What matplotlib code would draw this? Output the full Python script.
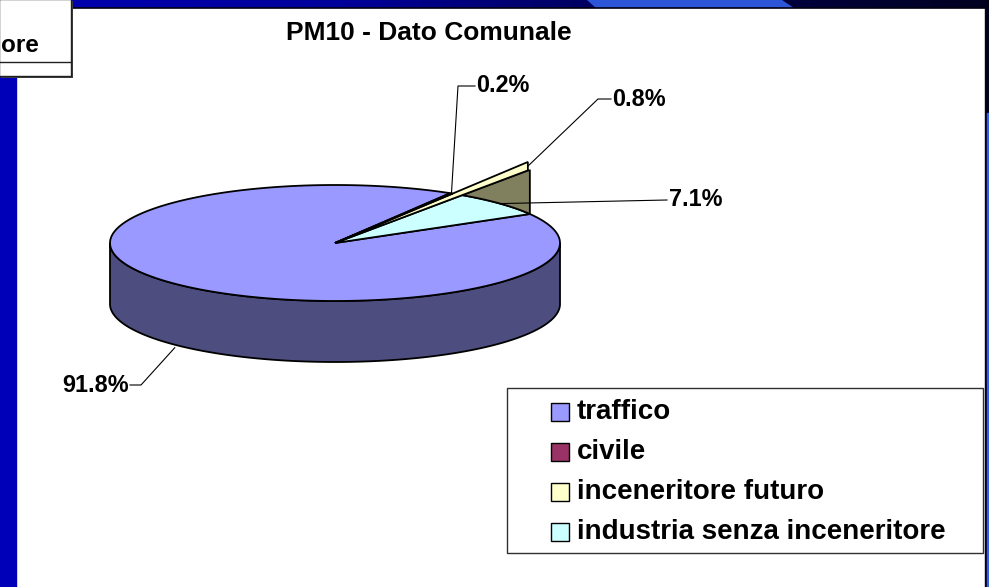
import numpy as np
import matplotlib
matplotlib.use("Agg")
import matplotlib.pyplot as plt
from matplotlib.patches import Polygon, Rectangle
from matplotlib.colors import LinearSegmentedColormap

# ---- data ----
categories = ["traffico", "civile", "inceneritore futuro", "industria senza inceneritore"]
values = [91.8, 0.2, 0.8, 7.1]
colors = ["#9999ff", "#993366", "#ffffcc", "#ccffff"]
title = "PM10 - Dato Comunale"
corner_text = "ore"

FONT = "Liberation Sans"
W, H = 989, 587
fig = plt.figure(figsize=(W / 100, H / 100), dpi=100)
ax = fig.add_axes([0, 0, 1, 1])

# ---- slide background ----
ax.add_patch(Rectangle((0, 0), W, H, color="white", zorder=0))
ax.add_patch(Rectangle((0, 0), 16, H, color="#0000b8", zorder=1))
grad = np.linspace(0, 1, 256).reshape(1, -1)
cmap = LinearSegmentedColormap.from_list("bar", ["#0000b0", "#00009a", "#000050", "#000020"])
ax.imshow(grad, extent=(16, W, 8, 0), cmap=cmap, aspect="auto", zorder=1)
ax.add_patch(Polygon([(587, 0), (782, 0), (794, 8), (596, 8)], closed=True,
                     facecolor="#2d55d8", edgecolor="none", zorder=2))
ax.plot([16, 985], [8, 8], color="#000010", lw=1.2, zorder=2)
ax.add_patch(Rectangle((985, 0), 4, H, color="#000018", zorder=2))
ax.add_patch(Rectangle((987, 113), 2, H - 113, color="#3060f0", zorder=3))

# corner box
ax.add_patch(Rectangle((1, 1), 72, 77, facecolor="#404040", edgecolor="none", zorder=4))
ax.add_patch(Rectangle((-1, -1), 72, 77, facecolor="white", edgecolor="#202020", lw=1.0, zorder=5))
ax.plot([-1, 71], [62, 62], color="#202020", lw=1.0, zorder=6)
ax.text(0.5, 52, corner_text, ha="left", va="baseline", fontsize=17.5, fontweight="bold",
        family=FONT, zorder=6)

# ---- 3D pie ----
cx, cy, a, b, depth = 335.0, 243.0, 225.0, 58.0, 61.0
fr = np.array(values) / sum(values)
start = 30.0
bounds = start + 360 - 360 * np.concatenate([[0], np.cumsum(fr)])


def rim(t, dz=0.0):
    t = np.radians(t)
    return np.array([cx + a * np.cos(t), cy - b * np.sin(t) + dz])


def arc(t0, t1, n=200, dz=0.0):
    return [rim(t, dz) for t in np.linspace(t0, t1, n)]


EC = "black"
LW = 1.3
# side of pie (front half, belongs to traffico)
side = arc(180, 360) + arc(360, 180, dz=depth)
ax.add_patch(Polygon(side, closed=True, facecolor="#4d4d80", edgecolor=EC, lw=LW, zorder=10))

# top faces
for i in [0, 3]:
    pts = [np.array([cx, cy])] + arc(bounds[i], bounds[i + 1])
    ax.add_patch(Polygon(pts, closed=True, facecolor=colors[i], edgecolor=EC, lw=LW, zorder=11))

# extended wedge for the small slice (renderer artefact in the original)
c = np.array([cx, cy])
p_hi = rim(bounds[2])
p_lo = rim(bounds[3])
q = rim(bounds[4])


def extend(p):
    d = p - c
    s = (q[0] - 2 - c[0]) / d[0]
    return c + s * d


T_lo = extend(p_lo)
T_hi = extend(p_hi)
olive = [p_lo, T_lo, np.array([q[0], T_lo[1]]), q] + arc(bounds[4], bounds[3])
ax.add_patch(Polygon(olive, closed=True, facecolor="#80805f", edgecolor=EC, lw=LW, zorder=12))
ax.add_patch(Polygon([c, T_hi, T_lo], closed=True, facecolor=colors[2], edgecolor=EC,
                     lw=LW, zorder=13))
civ = [c] + arc(bounds[1], bounds[2], n=10)
ax.add_patch(Polygon(civ, closed=True, facecolor=colors[1], edgecolor=EC, lw=LW, zorder=14))

# ---- labels with leader lines ----
labels = [f"{v:.1f}%" for v in values]
mid = [(bounds[i] + bounds[i + 1]) / 2 for i in range(4)]
anchors = [rim(mid[0], depth + 3), rim(mid[1]), (T_hi + T_lo) / 2, rim(mid[3])]
elbows = [[(141, 385), (130, 385)],
          [(458, 86), (475, 86)],
          [(598, 99), (611, 99)],
          [(667, 200)]]
label_pos = [(129, 385, "right"), (476, 86, "left"), (612, 99, "left"), (669, 200, "left")]
for i in range(4):
    pts = [tuple(anchors[i])] + elbows[i]
    xs, ys = zip(*pts)
    ax.plot(xs, ys, color="black", lw=0.8, zorder=20)
    x, y, ha = label_pos[i]
    ax.text(x, y, labels[i], ha=ha, va="center", fontsize=16.8, fontweight="bold",
            family=FONT, zorder=21)

# title
ax.text(429, 33, title, ha="center", va="center", fontsize=19, fontweight="bold",
        family=FONT, zorder=21)

# ---- legend ----
ax.add_patch(Rectangle((507, 388), 476, 165, facecolor="white", edgecolor="#303030",
                       lw=1.0, zorder=20))
rows = [412, 452, 492, 532]
for i, cat in enumerate(categories):
    ax.add_patch(Rectangle((551, rows[i] - 9), 18, 18, facecolor=colors[i], edgecolor="black",
                           lw=1.0, zorder=21))
    ax.text(577, rows[i], cat, ha="left", va="center", fontsize=20, fontweight="bold",
            family=FONT, zorder=21)

ax.set_xlim(0, W)
ax.set_ylim(H, 0)
ax.axis("off")
fig.savefig("out.png", dpi=100)
